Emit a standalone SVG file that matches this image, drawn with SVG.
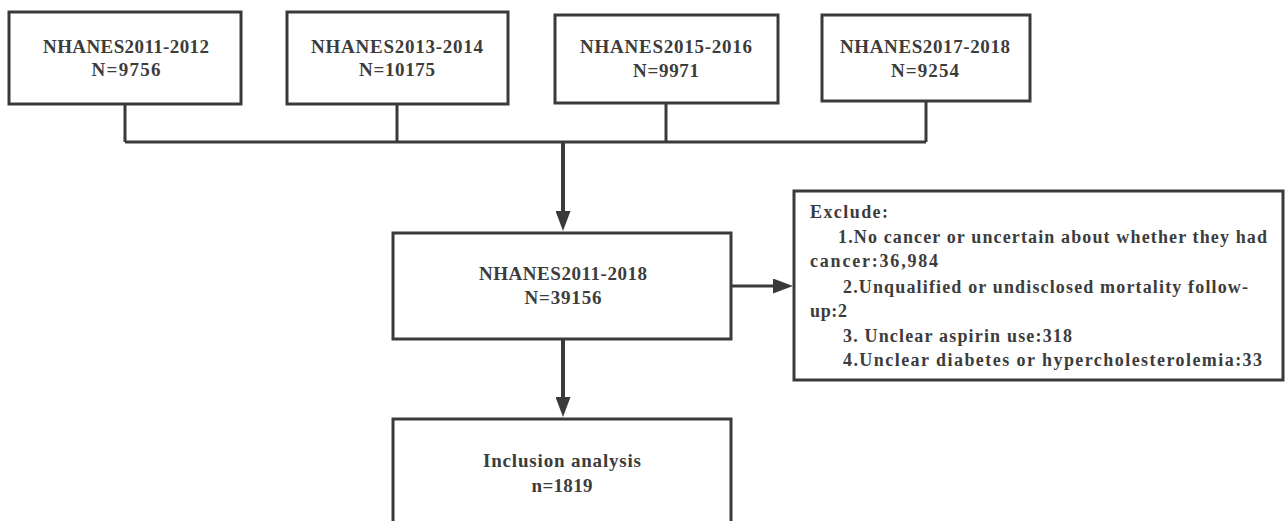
<svg xmlns="http://www.w3.org/2000/svg" width="1285" height="521" viewBox="0 0 1285 521">
<style>
.box{fill:#fff;stroke:#3a3a3a;stroke-width:3}
.t{font-family:"Liberation Serif","Times New Roman",serif;font-weight:bold;font-size:19px;fill:#3c3c3c;text-anchor:middle}
.e{font-family:"Liberation Serif","Times New Roman",serif;font-weight:bold;font-size:18px;fill:#3c3c3c}
.ln{fill:none;stroke:#3a3a3a;stroke-width:3}
.ar{fill:none;stroke:#3a3a3a;stroke-width:4}
</style>
<defs>
<marker id="ah" markerUnits="userSpaceOnUse" markerWidth="20" markerHeight="15" refX="10" refY="7.5" orient="auto">
<path d="M0,0 L20,7.5 L0,15 z" fill="#3a3a3a"/>
</marker>
</defs>
<rect width="1285" height="521" fill="#fff"/>
<g id="connectors">
<path class="ln" d="M125,104 V142 M397,104 V142 M666,103 V142 M926,101 V142 M125,142 H926"/>
<line class="ar" x1="563" y1="142" x2="563" y2="221" marker-end="url(#ah)"/>
<line class="ar" x1="563" y1="339" x2="563" y2="407" marker-end="url(#ah)"/>
<line class="ln" x1="731" y1="286" x2="783" y2="286" marker-end="url(#ah)"/>
</g>
<g id="n1">
<rect class="box" x="9" y="12" width="232" height="92"/>
<text class="t" x="126" y="53" textLength="166" lengthAdjust="spacing">NHANES2011-2012</text>
<text class="t" x="126" y="76" textLength="69" lengthAdjust="spacing">N=9756</text>
</g>
<g id="n2">
<rect class="box" x="287" y="12" width="221" height="92"/>
<text class="t" x="397" y="53" textLength="172" lengthAdjust="spacing">NHANES2013-2014</text>
<text class="t" x="397" y="76" textLength="76" lengthAdjust="spacing">N=10175</text>
</g>
<g id="n3">
<rect class="box" x="555" y="15" width="223" height="88"/>
<text class="t" x="666" y="53" textLength="172" lengthAdjust="spacing">NHANES2015-2016</text>
<text class="t" x="666" y="77" textLength="66" lengthAdjust="spacing">N=9971</text>
</g>
<g id="n4">
<rect class="box" x="822" y="15" width="208" height="86"/>
<text class="t" x="925" y="53" textLength="170" lengthAdjust="spacing">NHANES2017-2018</text>
<text class="t" x="925" y="77" textLength="68" lengthAdjust="spacing">N=9254</text>
</g>
<g id="n5">
<rect class="box" x="393" y="233" width="338" height="106"/>
<text class="t" x="563" y="280" textLength="168" lengthAdjust="spacing">NHANES2011-2018</text>
<text class="t" x="563" y="304" textLength="77" lengthAdjust="spacing">N=39156</text>
</g>
<g id="n6">
<rect class="box" x="794" y="191" width="489" height="189"/>
<text class="e" x="810" y="218" textLength="78" lengthAdjust="spacing">Exclude:</text>
<text class="e" x="838" y="243" textLength="429" lengthAdjust="spacing">1.No cancer or uncertain about whether they had</text>
<text class="e" x="810" y="267" textLength="128" lengthAdjust="spacing">cancer:36,984</text>
<text class="e" x="843" y="293" textLength="405" lengthAdjust="spacing">2.Unqualified or undisclosed mortality follow-</text>
<text class="e" x="810" y="317" textLength="37" lengthAdjust="spacing">up:2</text>
<text class="e" x="843" y="342" textLength="229" lengthAdjust="spacing">3. Unclear aspirin use:318</text>
<text class="e" x="843" y="366" textLength="419" lengthAdjust="spacing">4.Unclear diabetes or hypercholesterolemia:33</text>
</g>
<g id="n7">
<rect class="box" x="393" y="419" width="338" height="120"/>
<text class="t" x="562" y="467" textLength="158" lengthAdjust="spacing">Inclusion analysis</text>
<text class="t" x="562" y="492" textLength="61" lengthAdjust="spacing">n=1819</text>
</g>
</svg>
